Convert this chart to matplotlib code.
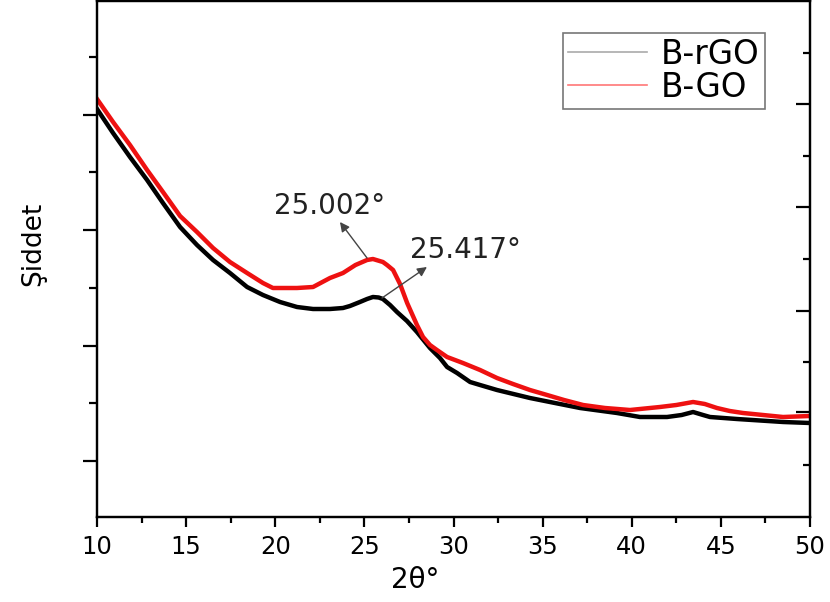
import matplotlib.pyplot as plt
from matplotlib.lines import Line2D
from matplotlib.ticker import MultipleLocator

plt.rcParams['font.family'] = ['DejaVu Sans']

# values (intensity in arbitrary units)
two_theta_rgo = [10.0, 10.9, 11.85, 12.81, 13.7, 14.66, 15.61, 16.51, 17.46, 18.42, 19.31,
                 20.27, 21.22, 22.12, 23.07, 23.8, 24.19, 24.75, 25.15, 25.48, 25.8,
                 26.04, 26.44, 26.83, 27.39, 27.95, 28.68, 29.24, 29.64, 30.2, 30.93,
                 31.49, 32.44, 34.29, 35.41, 37.1, 39.17, 40.46, 41.98, 42.8, 43.44,
                 44.0, 44.39, 45.9, 48.49, 50.0]
int_rgo = [408, 384, 360, 337, 314, 290, 272, 257, 244, 230, 222,
           215, 210, 208, 208, 209, 211, 215, 218, 220, 219.5,
           218, 212, 205, 196, 185, 169, 159, 150, 144, 135,
           132, 127, 119, 115, 109, 104, 100, 100, 102, 105,
           102, 100, 98, 95, 94]

two_theta_go = [10.0, 10.9, 11.85, 12.81, 13.7, 14.66, 15.61, 16.51, 17.46, 18.42, 19.31,
                19.87, 21.22, 22.12, 23.07, 23.8, 24.5, 25.15, 25.48, 26.04, 26.27,
                26.61, 27.0, 27.4, 27.95, 28.29, 28.68, 29.07, 29.64, 30.53, 31.49,
                32.44, 33.34, 34.29, 35.25, 36.2, 37.27, 38.5, 39.9, 41.58, 42.5,
                43.44, 44.1, 44.78, 45.5, 46.24, 48.49, 50.0]
int_go = [418, 395, 372, 347, 325, 301, 285, 269, 255, 244, 234,
          229, 229, 230, 239, 244, 252, 257, 258, 255, 252,
          247, 233, 214, 192, 180, 172, 167, 160, 154, 147,
          139, 133, 127, 122, 117, 112, 109, 107, 110, 112,
          115, 113, 109, 106, 104, 100, 101]

peak_go = (25.15, 259)
peak_rgo = (25.99, 219)

fig = plt.figure(figsize=(8.3, 6.02), dpi=100)
ax = fig.add_axes([97 / 830, 85 / 602, 713 / 830, 516 / 602])

ax.plot(two_theta_rgo, int_rgo, color='black', lw=3.2, label='B-rGO')
ax.plot(two_theta_go, int_go, color='#ee1111', lw=3.2, label='B-GO')

ax.set_xlim(10, 50)
ax.set_ylim(0, 516)

# peak labels
ax.annotate('', xy=(23.63, 295), xytext=peak_go,
            arrowprops=dict(arrowstyle='-|>', color='#444444', lw=1, mutation_scale=14,
                            shrinkA=0, shrinkB=0))
ax.text(23.07, 311, '25.002°', fontsize=20, ha='center', va='center', color='#222222')
ax.annotate('', xy=(28.51, 250), xytext=peak_rgo,
            arrowprops=dict(arrowstyle='-|>', color='#444444', lw=1, mutation_scale=14,
                            shrinkA=0, shrinkB=0))
ax.text(30.65, 267, '25.417°', fontsize=20, ha='center', va='center', color='#222222')

# axis styling: outward ticks bottom/left, inward top
for s in ax.spines.values():
    s.set_linewidth(1.6)
ax.xaxis.set_major_locator(MultipleLocator(5))
ax.xaxis.set_minor_locator(MultipleLocator(2.5))
ax.set_yticks([56 + 115.5 * k for k in range(4)])
ax.set_yticks([114 + 115.5 * k for k in range(4)], minor=True)
ax.set_yticklabels([])
ax.tick_params(axis='x', which='major', direction='out', length=7, width=1.6,
               labelsize=17.5, pad=6, top=True)
ax.tick_params(axis='x', which='minor', direction='out', length=4, width=1.6)
ax.tick_params(axis='y', which='major', direction='out', length=10, width=1.6)
ax.tick_params(axis='y', which='minor', direction='out', length=6, width=1.6)

# right side ticks sit at other spacing in the source image
ax_r = ax.twinx()
ax_r.set_ylim(0, 516)
ax_r.set_yticks([105, 206, 310, 413])
ax_r.set_yticks([52, 155, 258, 361, 464], minor=True)
ax_r.set_yticklabels([])
ax_r.tick_params(axis='y', which='major', direction='in', length=10, width=1.6)
ax_r.tick_params(axis='y', which='minor', direction='in', length=5, width=1.6)
for s in ax_r.spines.values():
    s.set_linewidth(1.6)

ax.set_xlabel('2θ°', fontsize=20, va='center')
ax.xaxis.set_label_coords(0.446, -0.122)
ax.set_ylabel('Şiddet', fontsize=19, va='center')
ax.yaxis.set_label_coords(-0.09, 0.529)

handles = [Line2D([], [], color='#aaaaaa', lw=1.2),
           Line2D([], [], color='#ff7777', lw=1.2)]
leg = ax.legend(handles, ['B-rGO', 'B-GO'], loc='upper left',
                bbox_to_anchor=(0.654, 0.938), fontsize=23.5, frameon=True,
                fancybox=False, edgecolor='#555555', handlelength=2.4,
                borderpad=0.15, labelspacing=0.0, handletextpad=0.45,
                borderaxespad=0)
leg.get_frame().set_linewidth(1.2)

fig.savefig('out.png', dpi=100)
